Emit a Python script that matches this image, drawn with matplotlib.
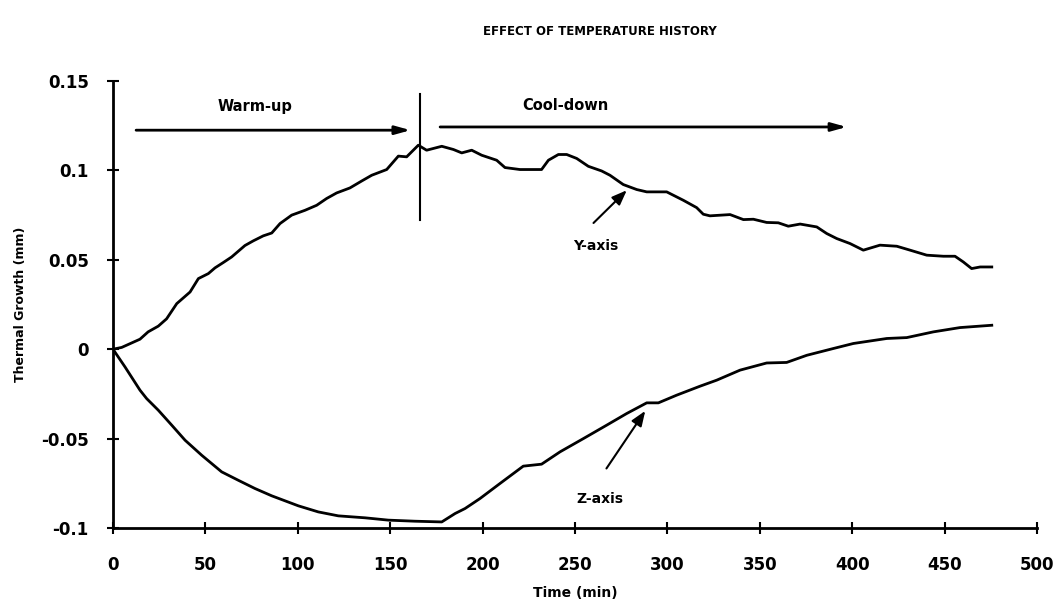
import matplotlib
matplotlib.use("Agg")
import matplotlib.pyplot as plt

# ---- data ----
y_time = [0, 4.7, 14.6, 19, 24.5, 29, 34.5, 41.7, 46.2, 51.6, 55.2, 59.7, 64.2, 71.4, 75.9, 81.3,
          85.9, 90.4, 96.7, 103.9, 110.2, 115.6, 121, 128.2, 134.6, 140, 148.1, 154.4, 158.9, 165.2,
          169.7, 177.9, 184.2, 188.7, 194.1, 199.5, 207.6, 212.1, 220.2, 231.9, 235.6, 241, 245.5,
          250.9, 257.2, 264.4, 268.9, 276.1, 283.4, 288.8, 299.6, 308.6, 315.8, 319.4, 323, 333.9,
          341.1, 346.5, 353.7, 360, 365.4, 371.8, 380.8, 386.2, 391.6, 398.8, 406, 415, 424.1, 431.3,
          440.3, 449.3, 455.6, 460.1, 464.6, 469.2, 475.5]
y_growth = [0, 0.001, 0.0056, 0.0097, 0.0129, 0.017, 0.0255, 0.032, 0.0395, 0.0423, 0.0455, 0.0485,
            0.0516, 0.058, 0.0606, 0.0634, 0.065, 0.0703, 0.075, 0.0777, 0.0805, 0.0843, 0.0874,
            0.0902, 0.0941, 0.0973, 0.1005, 0.108, 0.1076, 0.1141, 0.1113, 0.1135, 0.1117, 0.1098,
            0.1113, 0.1085, 0.1057, 0.1016, 0.1005, 0.1005, 0.1057, 0.1089, 0.1089, 0.1067, 0.1023,
            0.0997, 0.0973, 0.0921, 0.0893, 0.088, 0.088, 0.0833, 0.0792, 0.0755, 0.0746, 0.0753,
            0.0725, 0.0727, 0.0709, 0.0707, 0.0688, 0.07, 0.0684, 0.0647, 0.0619, 0.0591, 0.0554,
            0.0582, 0.0576, 0.0554, 0.0526, 0.052, 0.052, 0.0488, 0.0451, 0.046, 0.046]

z_time = [0, 6.5, 14.6, 18.2, 24.5, 31.8, 39, 48, 58.8, 67.8, 76.8, 85.9, 100.3, 111.1, 121.9,
          136.4, 149, 163.4, 177.9, 185.1, 190.5, 198.6, 209.4, 222, 231.9, 241.9, 254.5, 267.1,
          277.9, 288.8, 295.1, 305, 317.6, 326.7, 339.3, 353.7, 364.5, 375.4, 389.8, 400.6, 418.7,
          429.5, 443.9, 458.3, 475.5]
z_growth = [0, -0.0099, -0.0229, -0.0276, -0.0341, -0.0425, -0.0509, -0.0593, -0.0686, -0.0733,
            -0.0779, -0.082, -0.0876, -0.091, -0.0932, -0.0943, -0.0956, -0.0962, -0.0966, -0.0919,
            -0.0891, -0.0835, -0.0751, -0.0654, -0.0643, -0.0574, -0.05, -0.0425, -0.036, -0.03,
            -0.03, -0.0257, -0.0207, -0.0173, -0.0117, -0.0077, -0.0074, -0.0034, 0.0004, 0.0032,
            0.006, 0.0065, 0.0097, 0.0121, 0.0134]

x_ticks = [0, 50, 100, 150, 200, 250, 300, 350, 400, 450, 500]
y_ticks = [-0.1, -0.05, 0, 0.05, 0.1, 0.15]
y_tick_labels = ["-0.1", "-0.05", "0", "0.05", "0.1", "0.15"]

title = "EFFECT OF TEMPERATURE HISTORY"
x_label = "Time (min)"
y_label = "Thermal Growth (mm)"

plt.rcParams['font.family'] = ['DejaVu Sans']
plt.rcParams['font.weight'] = 'bold'

fig = plt.figure(figsize=(10.58, 6.06), dpi=100)
ax = fig.add_axes([0.1068, 0.1287, 0.8734, 0.7376])

ax.plot(y_time, y_growth, color='black', lw=2)
ax.plot(z_time, z_growth, color='black', lw=2)

ax.set_xlim(0, 500)
ax.set_ylim(-0.1, 0.15)
ax.set_xticks(x_ticks)
ax.set_xticklabels([str(t) for t in x_ticks])
ax.set_yticks(y_ticks)
ax.set_yticklabels(y_tick_labels)

for s in ['top', 'right']:
    ax.spines[s].set_visible(False)
for s in ['left', 'bottom']:
    ax.spines[s].set_linewidth(2)
ax.tick_params(axis='both', direction='inout', length=9, width=1.5, labelsize=12)
ax.tick_params(axis='y', pad=13)
ax.tick_params(axis='x', pad=16)
for lbl in ax.get_xticklabels() + ax.get_yticklabels():
    lbl.set_fontweight('bold')

ax.set_xlabel(x_label, fontsize=10, fontweight='bold', labelpad=8)
ax.set_ylabel(y_label, fontsize=9, fontweight='bold', labelpad=10)
fig.text(0.567, 0.948, title, ha='center', va='center', fontsize=8.5, fontweight='bold')

# phase divider
ax.plot([166, 166], [0.072, 0.143], color='black', lw=1.5)

arrow_kw = dict(arrowstyle='-|>,head_length=0.9,head_width=0.25', color='black', lw=2,
                shrinkA=0, shrinkB=0)
ax.annotate('', xy=(161, 0.1225), xytext=(12.5, 0.1225), arrowprops=arrow_kw)
ax.annotate('', xy=(397, 0.1243), xytext=(177, 0.1243), arrowprops=arrow_kw)
ax.text(77, 0.1355, "Warm-up", ha='center', va='center', fontsize=10.5, fontweight='bold')
ax.text(245, 0.1365, "Cool-down", ha='center', va='center', fontsize=10.5, fontweight='bold')

arrow_kw2 = dict(arrowstyle='-|>,head_length=0.9,head_width=0.35', color='black', lw=1.5,
                 shrinkA=0, shrinkB=0)
ax.annotate('', xy=(278, 0.0889), xytext=(260, 0.0706), arrowprops=arrow_kw2)
ax.text(261, 0.0576, "Y-axis", ha='center', va='center', fontsize=10, fontweight='bold')
ax.annotate('', xy=(288, -0.0345), xytext=(267, -0.0667), arrowprops=arrow_kw2)
ax.text(263.5, -0.0835, "Z-axis", ha='center', va='center', fontsize=10, fontweight='bold')

fig.savefig("out.png", dpi=100)
